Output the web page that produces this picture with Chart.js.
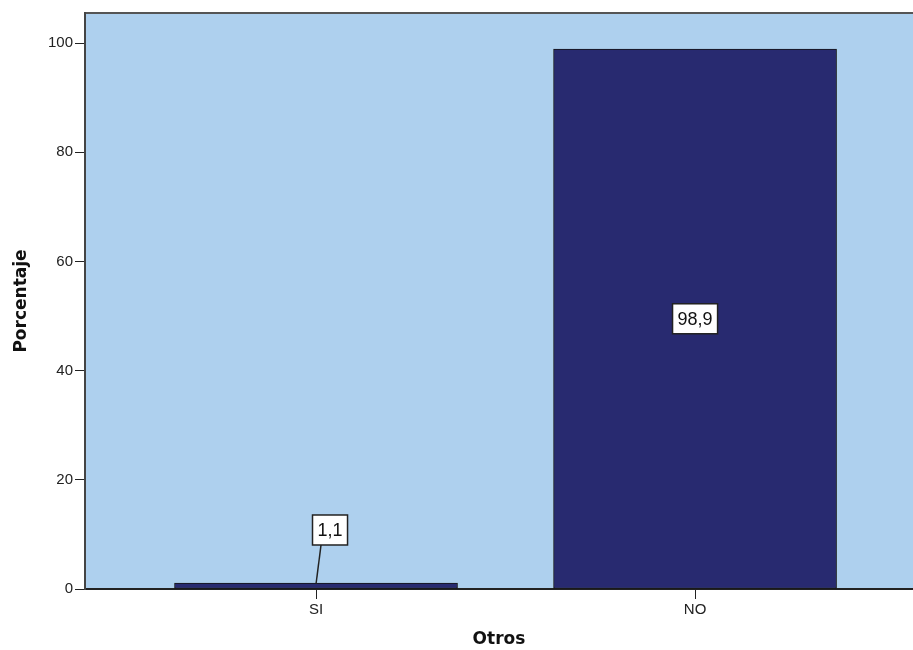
<!DOCTYPE html>
<html>
<head>
<meta charset="utf-8">
<script src="https://cdn.jsdelivr.net/npm/chart.js@4"></script>
<style>
  body { margin: 0; background: #fff; overflow: hidden; }
  #wrap { width: 913px; height: 650px; }
</style>
</head>
<body>
<div id="wrap"><canvas id="barChart"></canvas></div>
<script>
const categories = ['SI', 'NO'];
const values = [1.1, 98.9];
const yTicks = [0, 20, 40, 60, 80, 100];

const fmt = v => v.toFixed(1).replace('.', ',');

// plot background + top frame line
const frame = {
  id: 'frame',
  beforeDraw(chart) {
    const { ctx, chartArea: a } = chart;
    ctx.save();
    ctx.fillStyle = '#aed0ee';
    ctx.fillRect(a.left, a.top, a.right - a.left, a.bottom - a.top);
    ctx.strokeStyle = '#555';
    ctx.lineWidth = 2;
    ctx.beginPath();
    ctx.moveTo(a.left, a.top);
    ctx.lineTo(a.right, a.top);
    ctx.stroke();
    ctx.restore();
  }
};

// white boxed value labels
const boxLabels = {
  id: 'boxLabels',
  afterDatasetsDraw(chart) {
    const { ctx } = chart;
    const meta = chart.getDatasetMeta(0);
    ctx.save();
    ctx.font = '18px "Liberation Sans", Arial, sans-serif';
    ctx.textAlign = 'center';
    ctx.textBaseline = 'middle';
    meta.data.forEach((bar, i) => {
      const txt = fmt(values[i]);
      const w = ctx.measureText(txt).width + 10;
      const h = 30;
      let cx = bar.x, cy = (bar.y + bar.base) / 2;
      if (bar.base - bar.y < 40) {
        cx = bar.x + 14;
        cy = bar.y - 53;
        ctx.strokeStyle = '#222';
        ctx.lineWidth = 1.5;
        ctx.beginPath();
        ctx.moveTo(cx - 9, cy + h / 2);
        ctx.lineTo(bar.x, bar.y + 1);
        ctx.stroke();
      }
      ctx.fillStyle = '#fff';
      ctx.fillRect(cx - w / 2, cy - h / 2, w, h);
      ctx.strokeStyle = '#222';
      ctx.lineWidth = 1.5;
      ctx.strokeRect(cx - w / 2, cy - h / 2, w, h);
      ctx.fillStyle = '#111';
      ctx.fillText(txt, cx, cy + 1);
    });
    ctx.restore();
  }
};

const ctx = document.getElementById('barChart').getContext('2d');
new Chart(ctx, {
  type: 'bar',
  data: {
    datasets: [{
      data: values.map((v, i) => ({ x: i + 1, y: v })),
      backgroundColor: '#282a70',
      borderColor: '#151515',
      borderWidth: 1,
      borderSkipped: false,
      barThickness: 283
    }]
  },
  options: {
    responsive: true,
    maintainAspectRatio: false,
    animation: false,
    layout: { padding: { top: 13, right: 0, left: 0, bottom: 0 } },
    plugins: { legend: { display: false }, tooltip: { enabled: false } },
    scales: {
      x: {
        type: 'linear',
        offset: false,
        min: 0.3905,
        max: 2.575,
        afterBuildTicks: s => { s.ticks = categories.map((c, i) => ({ value: i + 1 })); },
        afterFit: s => { s.height = 61; },
        ticks: {
          callback: v => categories[v - 1] || '',
          color: '#222',
          font: { size: 15, family: '"Liberation Sans", Arial, sans-serif' },
          padding: 2,
          maxRotation: 0
        },
        grid: { offset: false, drawOnChartArea: false, drawTicks: true, tickLength: 10, color: '#222' },
        border: { display: true, color: '#222', width: 2 },
        title: {
          display: true,
          text: 'Otros',
          color: '#111',
          font: { size: 17, weight: 'bold', family: '"DejaVu Sans", Verdana, sans-serif' },
          padding: { top: 0, bottom: 0 }
        }
      },
      y: {
        min: 0,
        max: 105.5,
        afterBuildTicks: s => { s.ticks = yTicks.map(v => ({ value: v })); },
        afterFit: s => { s.width = 85; },
        ticks: {
          color: '#222',
          font: { size: 15, family: '"Liberation Sans", Arial, sans-serif' },
          padding: 2
        },
        grid: { drawOnChartArea: false, drawTicks: true, tickLength: 10, color: '#222' },
        border: { display: true, color: '#444', width: 2 },
        title: {
          display: true,
          text: 'Porcentaje',
          color: '#111',
          font: { size: 17, weight: 'bold', family: '"DejaVu Sans", Verdana, sans-serif' },
          padding: { top: 11, bottom: 4 }
        }
      }
    }
  },
  plugins: [frame, boxLabels]
});
</script>
</body>
</html>
